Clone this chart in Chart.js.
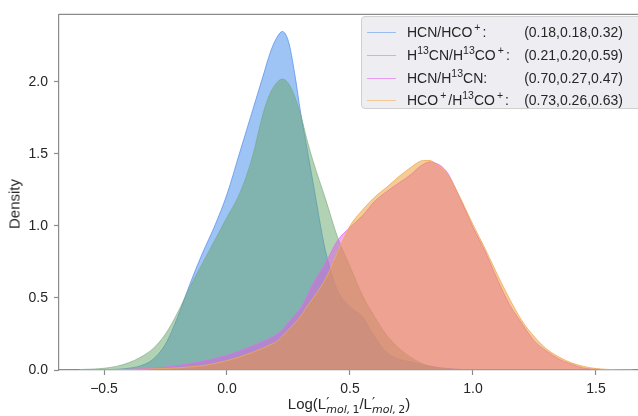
<!DOCTYPE html>
<html>
<head>
<meta charset="utf-8">
<script src="https://cdn.jsdelivr.net/npm/chart.js@4"></script>
<style>
  html, body { margin: 0; padding: 0; background: #fff; }
  #wrap { position: relative; width: 638px; height: 416px; overflow: hidden; font-family: "Liberation Sans", Arial, sans-serif; color: #262626; }
  canvas { position: absolute; left: 0; top: 0; }
  #legend { position: absolute; left: 361px; top: 16px; width: 290px; height: 93px; background: rgba(234,234,240,0.85); border: 1px solid #d0d0d0; border-radius: 4px; box-sizing: border-box; }
  .row { position: absolute; left: 0; height: 20px; width: 100%; font-size: 14px; line-height: 20px; }
  .row .ln { position: absolute; left: 5px; top: 10px; width: 29px; height: 0; border-top: 1.3px solid; }
  .row .lab { position: absolute; left: 45px; top: 0; white-space: nowrap; }
  .row .val { position: absolute; right: 27px; top: 0; white-space: nowrap; }
  sup { font-size: 10.5px; vertical-align: 0; position: relative; top: -6px; }
  sup.pl { margin: 0 2px 0 2px; }
  #xtitle { position: absolute; left: 0; width: 698px; top: 395px; text-align: center; font-size: 15px; white-space: nowrap; }
  #ytitle { position: absolute; left: 14px; top: 204px; font-size: 15px; transform: translate(-50%, -50%) rotate(-90deg); white-space: nowrap; }
  .pr { display: inline-block; position: relative; }
  .pr .p { position: absolute; left: 0px; top: -1px; font-size: 14px; font-family: "DejaVu Sans", sans-serif; }
  .pr .s { position: relative; top: 4px; font-size: 11px; font-style: oblique; font-family: "DejaVu Sans", sans-serif; white-space: nowrap; }
  .pr .s .n { font-style: normal; }
</style>
</head>
<body>
<div id="wrap">
  <canvas id="c" width="638" height="416"></canvas>
  <div id="legend">
    <div class="row" style="top:5px"><span class="ln" style="border-color:rgba(120,170,240,0.7)"></span><span class="lab">HCN/HCO<sup class="pl">+</sup>:</span><span class="val">(0.18,0.18,0.32)</span></div>
    <div class="row" style="top:28px"><span class="ln" style="border-color:rgba(150,185,160,0.7)"></span><span class="lab">H<sup>13</sup>CN/H<sup>13</sup>CO<sup class="pl">+</sup>:</span><span class="val">(0.21,0.20,0.59)</span></div>
    <div class="row" style="top:51px"><span class="ln" style="border-color:rgba(230,130,240,0.75)"></span><span class="lab">HCN/H<sup>13</sup>CN:</span><span class="val">(0.70,0.27,0.47)</span></div>
    <div class="row" style="top:73px"><span class="ln" style="border-color:rgba(245,190,120,0.8)"></span><span class="lab">HCO<sup class="pl">+</sup>/H<sup>13</sup>CO<sup class="pl">+</sup>:</span><span class="val">(0.73,0.26,0.63)</span></div>
  </div>
  <div id="xtitle">Log(L<span class="pr"><span class="p">′</span><span class="s">mol,&#8201;<span class="n">1</span></span></span>/L<span class="pr"><span class="p">′</span><span class="s">mol,&#8201;<span class="n">2</span></span></span>)</div>
  <div id="ytitle">Density</div>
</div>
<script>
// x values (Log ratio) and KDE densities
const xGrid = [-0.6,-0.55,-0.5,-0.45,-0.4,-0.35,-0.3,-0.25,-0.2,-0.15,-0.1,-0.05,0.0,0.05,0.1,0.15,
  0.175,0.2,0.225,0.25,0.275,0.3,0.325,0.35,
  0.4,0.45,0.5,0.55,0.6,0.65,0.7,0.75,
  0.775,0.8,0.825,0.85,0.875,0.9,
  0.95,1.0,1.05,1.1,1.15,1.2,1.25,1.3,1.35,1.4,1.45,1.5,1.55,1.6,1.65];

const hcnHco = [0,0,0.002,0.005,0.012,0.03,0.075,0.18,0.37,0.6,0.81,1.0,1.22,1.5,1.78,2.06,
  2.2,2.3,2.35,2.28,2.06,1.78,1.54,1.3,
  0.83,0.55,0.44,0.37,0.23,0.12,0.075,0.055,
  0.045,0.035,0.027,0.02,0.014,0.01,
  0.004,0.001,0,0,0,0,0,0,0,0,0,0,0,0,0];
const h13cnH13co = [0.003,0.006,0.012,0.025,0.05,0.09,0.15,0.25,0.4,0.58,0.74,0.9,1.06,1.22,1.46,1.8,
  1.92,1.99,2.02,1.99,1.9,1.77,1.6,1.45,
  1.19,0.92,0.72,0.52,0.37,0.24,0.15,0.085,
  0.06,0.04,0.026,0.015,0.009,0.005,
  0.001,0,0,0,0,0,0,0,0,0,0,0,0,0,0];
const hcnH13cn = [0,0.001,0.002,0.003,0.005,0.008,0.012,0.02,0.03,0.045,0.06,0.08,0.103,0.13,0.165,0.2,
  0.22,0.245,0.28,0.33,0.38,0.43,0.51,0.6,
  0.74,0.9,0.99,1.07,1.17,1.24,1.30,1.36,
  1.40,1.43,1.445,1.435,1.41,1.36,
  1.18,0.99,0.82,0.625,0.45,0.32,0.2,0.13,0.075,0.04,0.013,0.005,0.001,0,0];
const hcoH13co = [0,0,0.001,0.002,0.003,0.005,0.008,0.011,0.015,0.022,0.03,0.045,0.065,0.09,0.12,0.155,
  0.175,0.195,0.235,0.28,0.325,0.375,0.44,0.5,
  0.63,0.82,1.0,1.11,1.2,1.27,1.345,1.41,
  1.44,1.455,1.455,1.43,1.40,1.35,
  1.19,1.01,0.84,0.66,0.49,0.34,0.23,0.145,0.09,0.05,0.025,0.01,0.004,0.001,0];

const seriesNames = ['HCN/HCO+', 'H13CN/H13CO+', 'HCN/H13CN', 'HCO+/H13CO+'];
const xTicks = [-0.5, 0.0, 0.5, 1.0, 1.5];
const yTicks = [0.0, 0.5, 1.0, 1.5, 2.0];

const pts = arr => xGrid.map((x, i) => ({x: x, y: arr[i]}));
const mk = (label, arr, fill, line, order) => ({
  label, data: pts(arr), fill: 'origin', backgroundColor: fill, borderColor: line,
  borderWidth: 1, pointRadius: 0, cubicInterpolationMode: 'monotone', order
});

const spine = '#8a8a8a';
const topSpine = {
  id: 'topSpine',
  afterDraw(chart) {
    const a = chart.chartArea, ctx = chart.ctx;
    ctx.save(); ctx.strokeStyle = spine; ctx.lineWidth = 1.2;
    ctx.beginPath(); ctx.moveTo(a.left, a.top); ctx.lineTo(a.right, a.top); ctx.stroke();
    ctx.restore();
  }
};

new Chart(document.getElementById('c'), {
  type: 'line',
  data: { datasets: [
    mk(seriesNames[3], hcoH13co,   'rgba(237,153,45,0.5)',  'rgba(240,170,90,0.8)', 0),
    mk(seriesNames[2], hcnH13cn,   'rgba(225,90,235,0.5)',  'rgba(225,110,235,0.8)', 1),
    mk(seriesNames[1], h13cnH13co, 'rgba(101,165,105,0.5)', 'rgba(120,165,125,0.6)', 2),
    mk(seriesNames[0], hcnHco,     'rgba(61,137,237,0.5)',  'rgba(80,140,235,0.7)', 3)
  ]},
  options: {
    responsive: false, animation: false, devicePixelRatio: 1,
    layout: { padding: { top: 9, right: 0, left: 0, bottom: 0 } },
    plugins: { legend: { display: false }, tooltip: { enabled: false } },
    scales: {
      x: {
        type: 'linear', min: -0.683, max: 1.671,
        afterFit(s) { s.height = 46; },
        afterBuildTicks(s) { s.ticks = xTicks.map(v => ({value: v})); },
        ticks: { includeBounds: false, padding: 6, color: '#262626', font: { family: 'Liberation Sans', size: 14 },
                 callback: v => (v < 0 ? '\u2212' : '') + Math.abs(v).toFixed(1), maxRotation: 0 },
        grid: { drawOnChartArea: false, drawTicks: true, tickLength: 5, color: spine, tickWidth: 1.2 },
        border: { display: true, color: spine, width: 1.2 }
      },
      y: {
        type: 'linear', min: 0, max: 2.469,
        afterFit(s) { s.width = 59; },
        afterBuildTicks(s) { s.ticks = yTicks.map(v => ({value: v})); },
        ticks: { includeBounds: false, padding: 6, color: '#262626', font: { family: 'Liberation Sans', size: 14 },
                 callback: v => v.toFixed(1) },
        grid: { drawOnChartArea: false, drawTicks: true, tickLength: 5, color: spine, tickWidth: 1.2 },
        border: { display: true, color: spine, width: 1.2 }
      }
    }
  },
  plugins: [topSpine]
});
</script>
</body>
</html>
